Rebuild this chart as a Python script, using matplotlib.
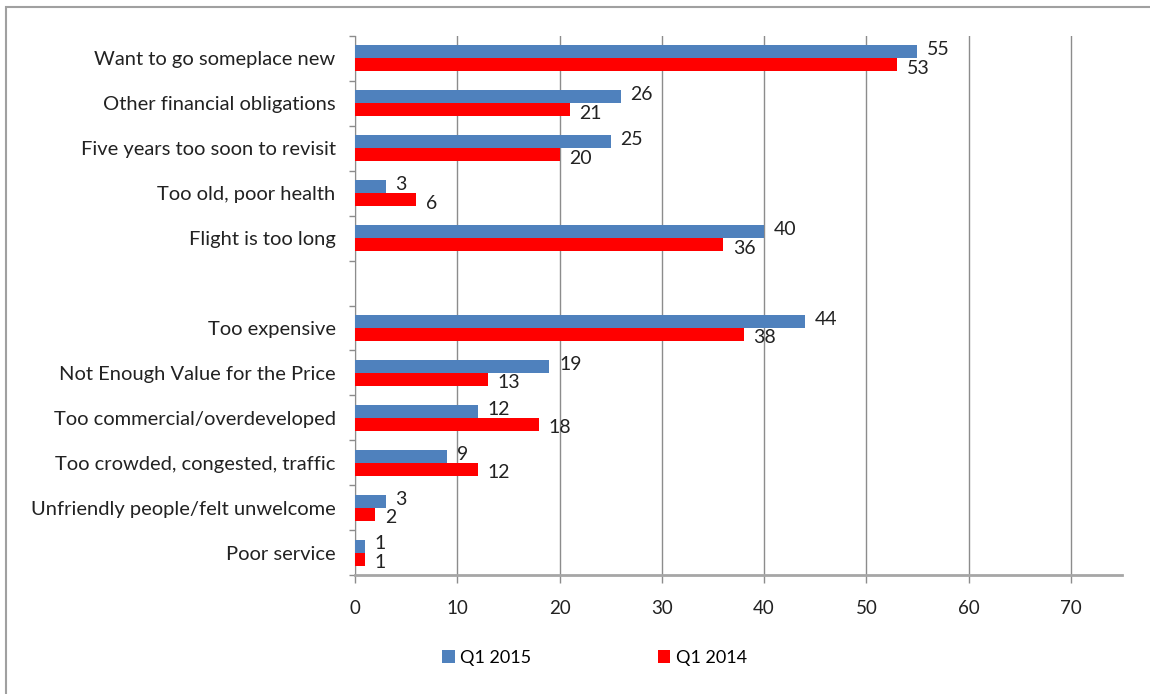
"""Raisons de ne pas revenir : comparaison Q1 2015 / Q1 2014."""
import numpy as np
import matplotlib.pyplot as plt
from matplotlib.patches import Rectangle
from matplotlib.ticker import FixedLocator

groupe_haut = [
    "Want to go someplace new",
    "Other financial obligations",
    "Five years too soon to revisit",
    "Too old, poor health",
    "Flight is too long",
]
groupe_bas = [
    "Too expensive",
    "Not Enough Value for the Price",
    "Too commercial/overdeveloped",
    "Too crowded, congested, traffic",
    "Unfriendly people/felt unwelcome",
    "Poor service",
]
q1_2015 = [55, 26, 25, 3, 40, 44, 19, 12, 9, 3, 1]
q1_2014 = [53, 21, 20, 6, 36, 38, 13, 18, 12, 2, 1]
graduations = [0, 10, 20, 30, 40, 50, 60, 70]

BLEU = "#4F81BD"
ROUGE = "#FF0000"
GRIS = "#8C8C8C"
TEXTE = "#222222"


def main():
    plt.rcParams["font.family"] = ["Lato", "DejaVu Sans"]
    fig = plt.figure(figsize=(11.5, 6.94), dpi=100)
    ax = fig.add_axes([355 / 1150, 1 - 575 / 694, (1122 - 355) / 1150, (575 - 36) / 694])

    categories = groupe_haut + groupe_bas
    # une ligne vide entre les deux groupes
    pos = np.array(list(range(len(groupe_haut))) +
                   [len(groupe_haut) + 1 + i for i in range(len(groupe_bas))], dtype=float)
    h = 0.29

    ax.barh(pos - h / 2, q1_2015, height=h, color=BLEU, label="Q1 2015", zorder=3)
    ax.barh(pos + h / 2, q1_2014, height=h, color=ROUGE, label="Q1 2014", zorder=3)

    for y, v in zip(pos, q1_2015):
        ax.annotate(str(v), (v, y - h / 2), xytext=(7, 1.5), textcoords="offset points",
                    ha="left", va="center", fontsize=14, color=TEXTE)
    for y, v in zip(pos, q1_2014):
        ax.annotate(str(v), (v, y + h / 2), xytext=(7, -2.5), textcoords="offset points",
                    ha="left", va="center", fontsize=14, color=TEXTE)

    ax.set_xlim(0, 75)
    ax.set_ylim(11.5, -0.5)
    ax.set_xticks(graduations)
    ax.set_xticklabels([str(g) for g in graduations], fontsize=13.5, color=TEXTE)
    ax.set_yticks(pos)
    ax.set_yticklabels(categories, fontsize=14.5, color=TEXTE)
    ax.yaxis.set_minor_locator(FixedLocator(np.arange(-0.5, 12, 1.0)))
    ax.tick_params(axis="y", which="major", length=0, pad=14)
    ax.tick_params(axis="y", which="minor", length=4, color=GRIS, width=1)
    ax.tick_params(axis="x", length=6, color=GRIS, width=1, pad=12)

    ax.grid(axis="x", color=GRIS, linewidth=1, zorder=0)
    for cote in ("top", "right"):
        ax.spines[cote].set_visible(False)
    ax.spines["left"].set_color(GRIS)
    ax.spines["bottom"].set_color("#A6A6A6")
    ax.spines["bottom"].set_linewidth(2)

    fig.legend(loc="center", bbox_to_anchor=(0.517, 1 - 658 / 694), ncol=2,
               frameon=False, fontsize=13, handlelength=0.7, handleheight=0.7,
               handletextpad=0.3, columnspacing=7.0)

    # cadre autour du graphique
    fig.patches.append(Rectangle((6 / 1150, -0.1), 1.2, 1.1 - 7 / 694, transform=fig.transFigure,
                                 fill=False, edgecolor="#A0A0A0", linewidth=1.5))

    fig.savefig("out.png", dpi=100)


if __name__ == "__main__":
    main()
